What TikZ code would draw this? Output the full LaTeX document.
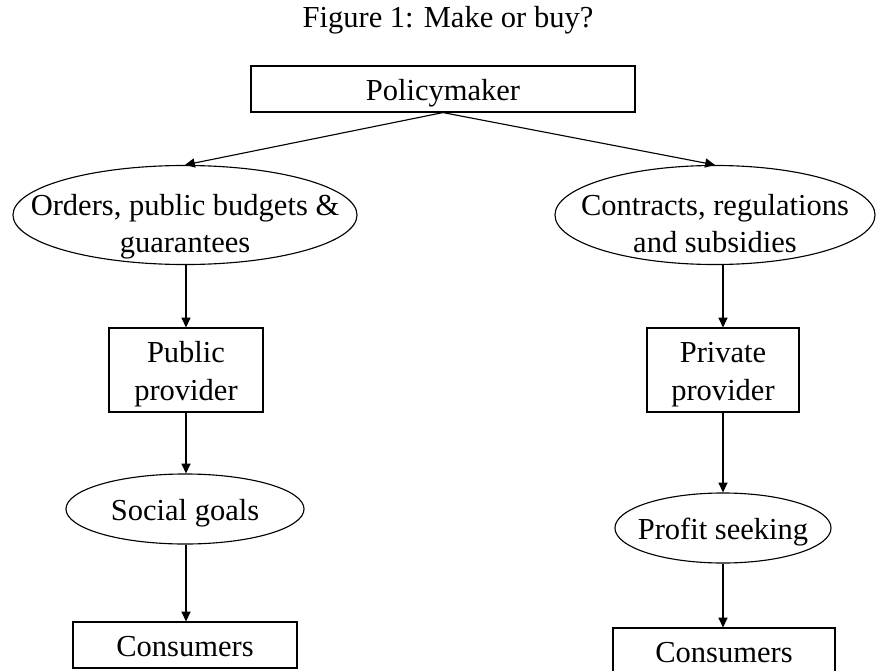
\documentclass[tikz,border=0pt]{standalone}
\usepackage{fontspec}
\setmainfont{Liberation Serif}
\usetikzlibrary{arrows.meta,shapes.geometric,positioning}

% one fixed line height for all texts
\newcommand{\lnstrut}{\rule[-5pt]{0pt}{27pt}}

\tikzset{
    txt/.style={align=center, text=black, inner sep=0pt, execute at begin node={\lnstrut}},
    box/.style={rectangle, draw=black, line width=0.8pt, txt},
    oval/.style={ellipse, draw=black, line width=0.8pt, inner sep=0pt},
    flow/.style={-{Triangle[length=7pt,width=6.5pt]}, line width=0.8pt},
}

\begin{document}
\begin{tikzpicture}[x=0.025cm, y=-0.025cm, font=\fontsize{21.7}{27}\selectfont]
    \useasboundingbox (0,0) rectangle (876,671);

    \node (Title) [txt] at (448,16) {Figure 1: Make or buy?};

    \node (Policymaker) [box, minimum width=9.6cm, minimum height=1.15cm] at (443,89) {Policymaker};

    % the two ways of providing
    \node (Orders) [oval, minimum width=8.6cm, minimum height=2.475cm,
        label={[txt, yshift=-5pt]center:Orders, public budgets \&\lnstrut\\guarantees\lnstrut}] at (185,215) {};
    \node (Contracts) [oval, minimum width=8cm, minimum height=2.475cm,
        label={[txt, yshift=-5pt]center:Contracts, regulations\lnstrut\\and subsidies\lnstrut}] at (715,215) {};

    \node (PublicProvider) [box, minimum width=3.85cm, minimum height=2.1cm] at (186,370) {Public\lnstrut\\provider\lnstrut};
    \node (PrivateProvider) [box, minimum width=3.8cm, minimum height=2.1cm] at (723,370) {Private\lnstrut\\provider\lnstrut};

    \node (SocialGoals) [oval, minimum width=5.95cm, minimum height=1.75cm,
        label={[txt]center:Social goals}] at (185,509) {};
    \node (ProfitSeeking) [oval, minimum width=5.4cm, minimum height=1.75cm,
        label={[txt]center:Profit seeking}] at (723,528) {};

    \node (ConsumersPublic) [box, minimum width=5.6cm, minimum height=1.15cm] at (185,645) {Consumers};
    \node (ConsumersPrivate) [box, minimum width=5.55cm, minimum height=1.15cm] at (724,651) {Consumers};

    \draw[flow] (Policymaker.south) -- (Orders.north);
    \draw[flow] (Policymaker.south) -- (Contracts.north);

    \draw[flow] (PublicProvider.north |- Orders.south) -- (PublicProvider.north);
    \draw[flow] (PublicProvider.south) -- (PublicProvider.south |- SocialGoals.north);
    \draw[flow] (PublicProvider.south |- SocialGoals.south) -- (PublicProvider.south |- ConsumersPublic.north);

    \draw[flow] (PrivateProvider.north |- Contracts.south) -- (PrivateProvider.north);
    \draw[flow] (PrivateProvider.south) -- (ProfitSeeking.north);
    \draw[flow] (ProfitSeeking.south) -- (ProfitSeeking.south |- ConsumersPrivate.north);
\end{tikzpicture}
\end{document}
